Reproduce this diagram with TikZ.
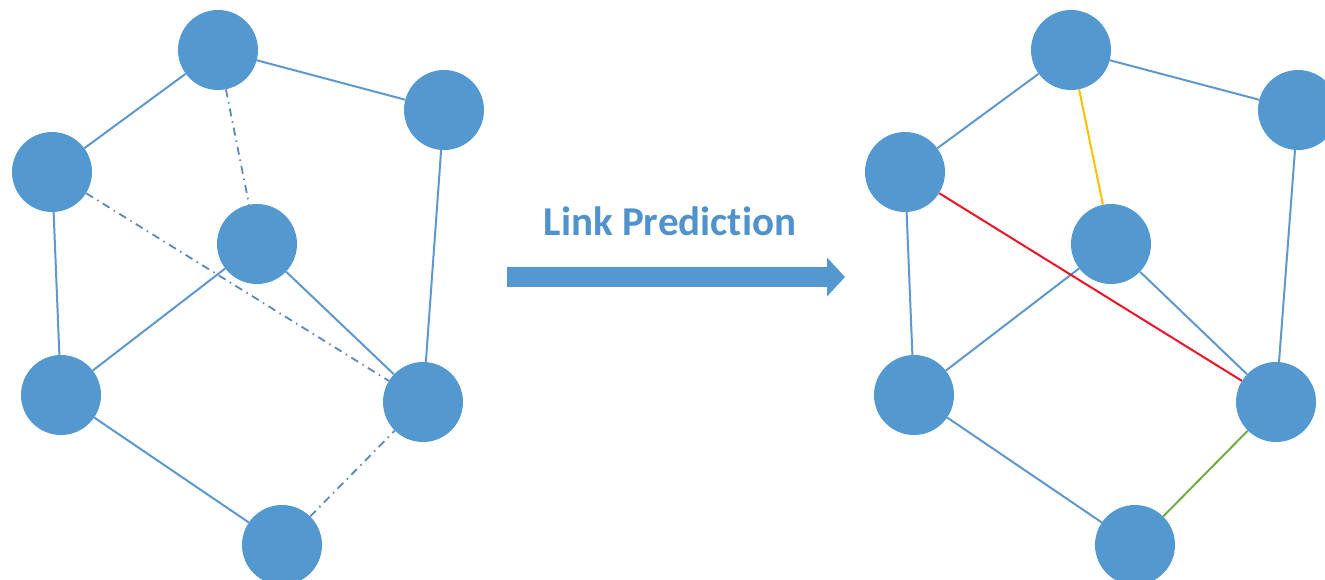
\documentclass[tikz,border=0pt]{standalone}
\usepackage{fontspec}
\setmainfont{Carlito}[Ligatures=NoCommon]
\usetikzlibrary{arrows.meta}
\definecolor{nodeblue}{RGB}{84,152,208}
\definecolor{edgeblue}{RGB}{94,152,206}
\definecolor{dashblue}{RGB}{92,136,186}
\definecolor{textblue}{RGB}{80,146,204}
\definecolor{predyellow}{RGB}{255,192,0}
\definecolor{predred}{RGB}{232,20,40}
\definecolor{predgreen}{RGB}{112,173,71}
\tikzset{
  vertex/.style={circle, fill=nodeblue, draw=none, inner sep=0pt, minimum size=80pt},
  edge/.style={draw=edgeblue, line width=2pt},
  missing/.style={draw=dashblue, line width=1.8pt, dash pattern=on 8pt off 5pt on 1.5pt off 5pt},
  newedge/.style={line width=2pt},
  bigarrow/.style={draw=nodeblue, line width=20pt, -{Triangle[length=18pt,width=38pt]}},
  label/.style={font=\bfseries\fontsize{41}{48}\selectfont, text=textblue, inner sep=0pt}
}
\begin{document}
\begin{tikzpicture}[x=1pt,y=-1pt]
\useasboundingbox (0,0) rectangle (1325,579);
\fill[white] (0,0) rectangle (1325,579);
% left graph
\node[vertex] (lA) at (218,50) {};
\node[vertex] (lB) at (444,110) {};
\node[vertex] (lC) at (52,172) {};
\node[vertex] (lD) at (257,244) {};
\node[vertex] (lE) at (61,395) {};
\node[vertex] (lF) at (423,402) {};
\node[vertex] (lG) at (282,545) {};
% right graph
\node[vertex] (rA) at (1071,50) {};
\node[vertex] (rB) at (1298,110) {};
\node[vertex] (rC) at (905,172) {};
\node[vertex] (rD) at (1111,244) {};
\node[vertex] (rE) at (914,395) {};
\node[vertex] (rF) at (1276,402) {};
\node[vertex] (rG) at (1135,545) {};
% left edges
\draw[edge] (lA) -- (lC);
\draw[edge] (lA) -- (lB);
\draw[edge] (lB) -- (lF);
\draw[edge] (lC) -- (lE);
\draw[edge] (lD) -- (lE);
\draw[edge] (lD) -- (lF);
\draw[edge] (lE) -- (lG);
\draw[missing] (lA) -- (lD);
\draw[missing] (lC) -- (lF);
\draw[missing] (lG) -- (lF);
% right edges
\draw[edge] (rA) -- (rC);
\draw[edge] (rA) -- (rB);
\draw[edge] (rB) -- (rF);
\draw[edge] (rC) -- (rE);
\draw[edge] (rD) -- (rE);
\draw[edge] (rD) -- (rF);
\draw[edge] (rE) -- (rG);
\draw[newedge, predyellow] (rA) -- (rD);
\draw[newedge, predred] (rC) -- (rF);
\draw[newedge, predgreen] (rG) -- (rF);
% arrow and label
\coordinate (arrS) at (507,277);
\coordinate (arrE) at (845,277);
\draw[bigarrow] (arrS) -- (arrE);
\node[label, anchor=base] (lbl) at (670,235) {Link Prediction};
\end{tikzpicture}
\end{document}
